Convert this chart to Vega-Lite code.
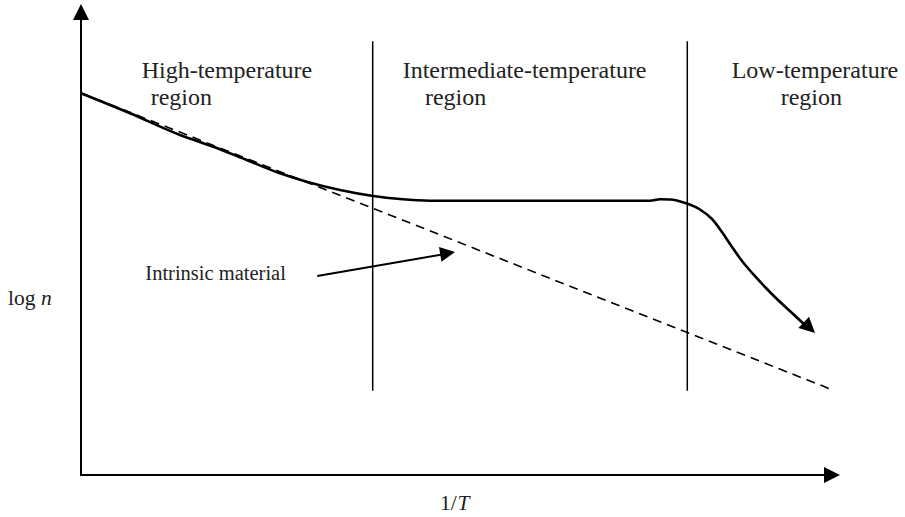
{
  "$schema": "https://vega.github.io/schema/vega-lite/v6.json",
  "width": 905,
  "height": 517,
  "autosize": {"type": "fit", "contains": "padding"},
  "padding": 0,
  "background": "white",
  "config": {"view": {"stroke": null}},
  "datasets": {
    "curve": [
      {"x": 0, "y": 81.04},
      {"x": 6.46, "y": 76.79},
      {"x": 13.04, "y": 72.19},
      {"x": 17.43, "y": 69.7},
      {"x": 21.83, "y": 66.88},
      {"x": 26.22, "y": 64.06},
      {"x": 29.74, "y": 62.27},
      {"x": 34.12, "y": 60.51},
      {"x": 38.51, "y": 59.24},
      {"x": 42.03, "y": 58.6},
      {"x": 45.98, "y": 58.24},
      {"x": 74.97, "y": 58.24},
      {"x": 76.28, "y": 58.53},
      {"x": 77.6, "y": 58.49},
      {"x": 79.71, "y": 57.69},
      {"x": 81.55, "y": 56.37},
      {"x": 83.14, "y": 54.35},
      {"x": 84.45, "y": 51.59},
      {"x": 85.77, "y": 48.41},
      {"x": 87.09, "y": 45.44},
      {"x": 88.54, "y": 42.68},
      {"x": 90.12, "y": 39.92},
      {"x": 91.83, "y": 37.15},
      {"x": 93.68, "y": 34.39},
      {"x": 95.52, "y": 31.63}
    ],
    "intrinsic": [
      {"x": 0, "y": 81.1},
      {"x": 99.04, "y": 18.05}
    ],
    "axes": [
      {"id": "logn", "x": 0, "y": -0.2},
      {"id": "logn", "x": 0, "y": 97},
      {"id": "invT", "x": 0, "y": 0},
      {"id": "invT", "x": 98, "y": 0}
    ],
    "dividers": [
      {"id": "a", "x": 38.43, "y": 92.1},
      {"id": "a", "x": 38.43, "y": 17.9},
      {"id": "b", "x": 79.88, "y": 92.1},
      {"id": "b", "x": 79.88, "y": 17.9}
    ],
    "pointer": [
      {"x": 31.13, "y": 42.25},
      {"x": 47.96, "y": 46.92}
    ],
    "labels": [
      {"x": 7.99, "y": 84.35, "text": "High-temperature"},
      {"x": 9.18, "y": 78.56, "text": "region"},
      {"x": 42.38, "y": 84.35, "text": "Intermediate-temperature"},
      {"x": 45.32, "y": 78.56, "text": "region"},
      {"x": 85.73, "y": 84.35, "text": "Low-temperature"},
      {"x": 92.19, "y": 78.56, "text": "region"}
    ],
    "small": [
      {"x": -9.62, "y": 36.09, "text": "log"},
      {"x": 47.3, "y": -7.43, "text": "1/"}
    ],
    "italics": [
      {"x": -5.28, "y": 36.09, "text": "n"},
      {"x": 49.6, "y": -7.43, "text": "T"}
    ],
    "note": [
      {"x": 27.0, "y": 41.4, "text": "Intrinsic material"}
    ]
  },
  "encoding": {
    "x": {"field": "x", "type": "quantitative", "scale": {"domain": [-10.672, 108.564], "nice": false, "zero": false}, "axis": null},
    "y": {"field": "y", "type": "quantitative", "scale": {"domain": [-8.917, 100.849], "nice": false, "zero": false}, "axis": null}
  },
  "layer": [
    {"data": {"name": "intrinsic"}, "mark": {"type": "line", "color": "black", "strokeWidth": 1.6, "strokeDash": [9, 6]}, "encoding": {}},
    {"data": {"name": "axes"}, "mark": {"type": "line", "color": "black", "strokeWidth": 2}, "encoding": {"detail": {"field": "id"}}},
    {"data": {"name": "dividers"}, "mark": {"type": "line", "color": "black", "strokeWidth": 1.5}, "encoding": {"detail": {"field": "id"}}},
    {"data": {"name": "curve"}, "mark": {"type": "line", "color": "black", "strokeWidth": 2.6, "interpolate": "monotone"}, "encoding": {}},
    {"data": {"name": "pointer"}, "mark": {"type": "line", "color": "black", "strokeWidth": 2}, "encoding": {}},
    {"data": {"values": [{"x": 0, "y": 100}]}, "mark": {"type": "point", "shape": "M0,0L-1,2L1,2Z", "filled": true, "color": "black", "opacity": 1, "size": 256, "angle": 0}},
    {"data": {"values": [{"x": 100, "y": 0}]}, "mark": {"type": "point", "shape": "M0,0L-1,2L1,2Z", "filled": true, "color": "black", "opacity": 1, "size": 256, "angle": 90}},
    {"data": {"values": [{"x": 96.71, "y": 30.15}]}, "mark": {"type": "point", "shape": "M0,0L-1,2L1,2Z", "filled": true, "color": "black", "opacity": 1, "size": 240, "angle": 133}},
    {"data": {"values": [{"x": 49.28, "y": 47.35}]}, "mark": {"type": "point", "shape": "M0,0L-1,2L1,2Z", "filled": true, "color": "black", "opacity": 1, "size": 225, "angle": 80.7}},
    {"data": {"name": "labels"}, "mark": {"type": "text", "font": "Liberation Serif", "fontSize": 24, "align": "left", "baseline": "alphabetic", "color": "#222"}, "encoding": {"text": {"field": "text"}}},
    {"data": {"name": "small"}, "mark": {"type": "text", "font": "Liberation Serif", "fontSize": 21.5, "align": "left", "baseline": "alphabetic", "color": "#222"}, "encoding": {"text": {"field": "text"}}},
    {"data": {"name": "italics"}, "mark": {"type": "text", "font": "Liberation Serif", "fontSize": 21.5, "fontStyle": "italic", "align": "left", "baseline": "alphabetic", "color": "#222"}, "encoding": {"text": {"field": "text"}}},
    {"data": {"name": "note"}, "mark": {"type": "text", "font": "Liberation Serif", "fontSize": 20.5, "align": "right", "baseline": "alphabetic", "color": "#222"}, "encoding": {"text": {"field": "text"}}}
  ]
}
